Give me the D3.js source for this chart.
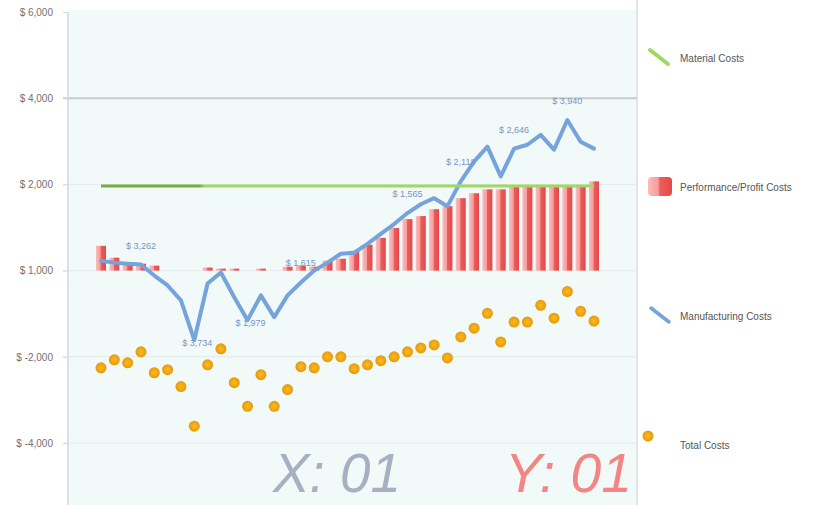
<!DOCTYPE html>
<html><head><meta charset="utf-8">
<script src="https://cdn.jsdelivr.net/npm/d3@7"></script>
<style>
body{margin:0;background:#fff;}
svg{display:block;font-family:"Liberation Sans",Arial,sans-serif;}
</style>
</head><body>
<svg id="chart" width="822" height="505"></svg>
<script>
// ---------------- data ----------------
const categories = ["01","02","03","04","05","06","07","08","09","10","11","12","13","14","15","16","17","18","19",
  "20","21","22","23","24","25","26","27","28","29","30","31","32","33","34","35","36","37","38"];
const materialCosts = [1960,1960,1960,1960,1960,1960,1960,1960,1960,1960,1960,1960,1960,1960,1960,1960,1960,1960,1960,
  1960,1960,1960,1960,1960,1960,1960,1960,1960,1960,1960,1960,1960,1960,1960,1960,1960,1960,1960];
const performanceCosts = [575,300,185,160,115,0,0,0,70,45,45,0,45,0,90,115,90,230,275,
  460,600,760,990,1195,1265,1425,1495,1680,1795,1885,1885,1955,1955,1955,1955,1955,1955,2070];
const manufacturingCosts = [230,185,160,140,-115,-345,-690,-1610,-300,-45,-620,-1150,-575,-1080,-575,-275,0,185,390,
  415,620,850,1080,1335,1540,1680,1495,2070,2530,2875,2185,2830,2920,3150,2805,3495,2990,2830];
const totalCosts = [-2255,-2070,-2140,-1885,-2370,-2300,-2690,-3610,-2185,-1815,-2600,-3150,-2415,-3150,-2760,-2230,-2255,-2000,-2000,
  -2275,-2185,-2090,-2000,-1885,-1795,-1725,-2025,-1540,-1335,-990,-1655,-1195,-1195,-805,-1105,-485,-945,-1170];
const yTickValues = [6000,4000,2000,0,-2000,-4000];
const yTickLabels = ["$ 6,000","$ 4,000","$ 2,000","$ 1,000","$ -2,000","$ -4,000"];
const pointLabelIndex = [3,7,11,15,23,27,31,35];
const pointLabelText = ["$ 3,262","$ 3,734","$ 1,979","$ 1,615","$ 1,565","$ 2,118","$ 2,646","$ 3,940"];
const seriesNames = ["Material Costs","Performance/Profit Costs","Manufacturing Costs","Total Costs"];
const watermarkTexts = ["X: 01","Y: 01"];

// ---------------- layout ----------------
const svg = d3.select("#chart");
const plotLeft = 68, plotRight = 637, plotTop = 10, plotBottom = 505;
const x = d3.scalePoint().domain(categories).range([101, 594]);
const y = d3.scaleLinear().domain([-4000, 6000]).range([443, 12]);

const defs = svg.append("defs");
const barGrad = defs.append("linearGradient").attr("id","barGrad").attr("x1","0").attr("x2","1").attr("y1","0").attr("y2","0");
barGrad.append("stop").attr("offset","0").attr("stop-color","#fbbcbc");
barGrad.append("stop").attr("offset","0.42").attr("stop-color","#f79c9c");
barGrad.append("stop").attr("offset","0.5").attr("stop-color","#ec5d5d");
barGrad.append("stop").attr("offset","1").attr("stop-color","#e54848");
const greenGrad = defs.append("linearGradient").attr("id","greenGrad").attr("gradientUnits","userSpaceOnUse")
  .attr("x1",x(categories[0])).attr("x2",x(categories[categories.length-1])).attr("y1",0).attr("y2",0);
greenGrad.append("stop").attr("offset","0").attr("stop-color","#76ad3e");
greenGrad.append("stop").attr("offset","0.2").attr("stop-color","#76ad3e");
greenGrad.append("stop").attr("offset","0.21").attr("stop-color","#9fd964");
greenGrad.append("stop").attr("offset","1").attr("stop-color","#9fd964");
const dotGrad = defs.append("radialGradient").attr("id","dotGrad");
dotGrad.append("stop").attr("offset","0").attr("stop-color","#f7bb2a");
dotGrad.append("stop").attr("offset","0.6").attr("stop-color","#f0a710");
dotGrad.append("stop").attr("offset","1").attr("stop-color","#e49a08");

// plot background
svg.append("rect").attr("x",plotLeft).attr("y",plotTop).attr("width",plotRight-plotLeft).attr("height",plotBottom-plotTop)
  .attr("fill","#f2f9f9");
svg.append("line").attr("x1",plotRight).attr("x2",plotRight).attr("y1",0).attr("y2",505)
  .attr("stroke","#d9dede").attr("stroke-width",1.5);

// grid lines
svg.append("g").selectAll("line").data(yTickValues.slice(1)).join("line")
  .attr("x1",63).attr("x2",plotRight).attr("y1",d=>y(d)).attr("y2",d=>y(d))
  .attr("stroke",d=>d===4000?"#c9cccc":"#e3eaea").attr("stroke-width",d=>d===4000?2:1);

// y axis
const yAxis = svg.append("g").attr("transform",`translate(${plotLeft},0)`)
  .call(d3.axisLeft(y).tickValues(yTickValues).tickFormat((d,i)=>yTickLabels[i]).tickSize(5).tickPadding(10));
yAxis.select(".domain").remove();
yAxis.selectAll(".tick line").attr("stroke","#d5d9d9");
yAxis.selectAll(".tick text").attr("fill","#707070").attr("font-size",10).attr("font-family","Liberation Sans, Arial, sans-serif");
svg.append("line").attr("x1",plotLeft).attr("x2",plotLeft).attr("y1",12).attr("y2",505)
  .attr("stroke","#d3d8d8").attr("stroke-width",1.5);

// bars
svg.append("g").selectAll("rect").data(performanceCosts).join("rect")
  .attr("x",(d,i)=>x(categories[i])-5).attr("width",10)
  .attr("y",d=>Math.min(y(d),y(0))).attr("height",d=>Math.abs(y(0)-y(d)))
  .attr("fill","url(#barGrad)");

// manufacturing line
const line = d3.line().x((d,i)=>x(categories[i])).y(d=>y(d));
svg.append("path").datum(manufacturingCosts).attr("d",line)
  .attr("fill","none").attr("stroke","#75a3dc").attr("stroke-width",4).attr("stroke-linejoin","round").attr("stroke-linecap","round");

// material line
svg.append("path").datum(materialCosts).attr("d",line)
  .attr("fill","none").attr("stroke","url(#greenGrad)").attr("stroke-width",3);

// total dots
svg.append("g").selectAll("circle").data(totalCosts).join("circle")
  .attr("cx",(d,i)=>x(categories[i])).attr("cy",d=>y(d)).attr("r",5.5)
  .attr("fill","url(#dotGrad)");

// point labels
const belowSet = new Set([7,11]);
svg.append("g").selectAll("text").data(pointLabelIndex).join("text")
  .attr("x",d=>x(categories[d])+ (belowSet.has(d)?3:0))
  .attr("y",d=>y(manufacturingCosts[d]) + (belowSet.has(d)?6:-16))
  .attr("text-anchor","middle").attr("font-size",9).attr("fill","#7896c4")
  .text((d,i)=>pointLabelText[i]);

// legend
const lg = svg.append("g");
lg.append("line").attr("x1",650).attr("y1",50).attr("x2",668).attr("y2",64)
  .attr("stroke","#9ed862").attr("stroke-width",4).attr("stroke-linecap","round");
lg.append("rect").attr("x",648).attr("y",177).attr("width",24).attr("height",19).attr("rx",4)
  .attr("fill","url(#barGrad)");
lg.append("line").attr("x1",651).attr("y1",308).attr("x2",669).attr("y2",322)
  .attr("stroke","#75a3dc").attr("stroke-width",3.5).attr("stroke-linecap","round");
lg.append("circle").attr("cx",648).attr("cy",436).attr("r",5.5).attr("fill","url(#dotGrad)");
const legendY = [58,187,316,445];
lg.selectAll("text").data(seriesNames).join("text")
  .attr("x",680).attr("y",(d,i)=>legendY[i]).attr("dy","0.35em")
  .attr("font-size",10).attr("fill","#555").text(d=>d);

// watermark
svg.append("text").attr("x",273).attr("y",492).attr("font-size",56).attr("font-style","italic")
  .attr("fill","#a7b0c2").attr("textLength",128).attr("lengthAdjust","spacingAndGlyphs").text(watermarkTexts[0]);
svg.append("text").attr("x",505).attr("y",492).attr("font-size",56).attr("font-style","italic")
  .attr("fill","#f48585").attr("textLength",127).attr("lengthAdjust","spacingAndGlyphs").text(watermarkTexts[1]);
</script>
</body></html>
